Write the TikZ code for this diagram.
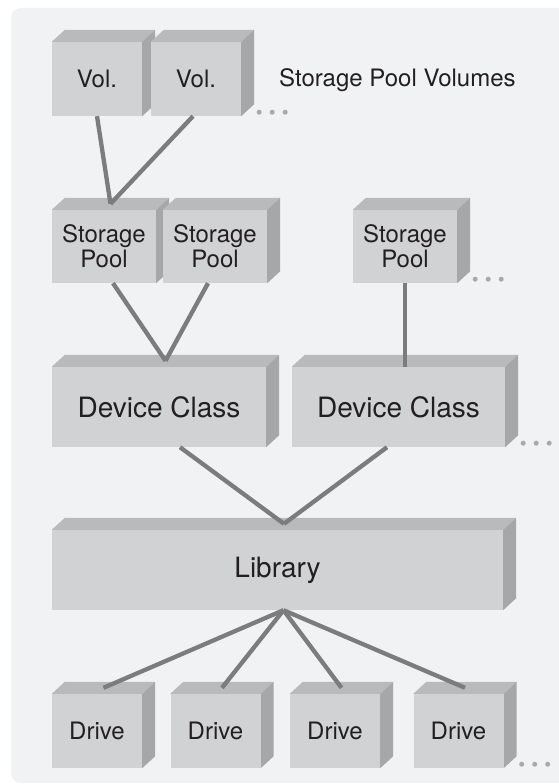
\documentclass[tikz,border=0pt]{standalone}
\usepackage{fontspec}
\setmainfont{TeX Gyre Heros}
\usepackage{tikz}

\definecolor{panelgray}{HTML}{F1F2F4}
\definecolor{frontgray}{HTML}{D1D2D4}
\definecolor{topgray}{HTML}{B9BABC}
\definecolor{sidegray}{HTML}{A6A7A9}
\definecolor{linkgray}{HTML}{7B7C7E}
\definecolor{dotgray}{HTML}{A8A9AB}
\definecolor{inkgray}{HTML}{231F20}

\pgfdeclarelayer{panel}
\pgfdeclarelayer{faces}
\pgfsetlayers{panel,faces,main}

\tikzset{
	cube/.style={fill=frontgray, inner sep=0pt, text=inkgray, align=center, font=\fontsize{24}{25}\selectfont},
	bigcube/.style={cube, font=\fontsize{28}{30}\selectfont},
	link/.style={draw=linkgray, line width=4.3pt},
}

\begin{document}
\begin{tikzpicture}[x=1pt, y=-1pt]
	\useasboundingbox (0,0) rectangle (559,784);
	\begin{pgfonlayer}{panel}
		\fill[panelgray, rounded corners=10pt] (11,8) rectangle (580,783);
	\end{pgfonlayer}

	\node[cube, minimum width=90pt, minimum height=74pt] (vol1) at (97,79) {Vol.};
	\node[cube, minimum width=90pt, minimum height=74pt] (vol2) at (196,79) {Vol.};
	\node[anchor=west, inner sep=0pt, text=inkgray, font=\fontsize{24}{25}\selectfont] (voltext) at (279,80) {Storage Pool Volumes};
	\node[cube, minimum width=104pt, minimum height=73pt] (sp1) at (104,246.5) {Storage\\Pool};
	\node[cube, minimum width=104pt, minimum height=73pt] (sp2) at (215,246.5) {Storage\\Pool};
	\node[cube, minimum width=104pt, minimum height=73pt] (sp3) at (405,246.5) {Storage\\Pool};
	\node[bigcube, minimum width=214pt, minimum height=80pt] (dc1) at (159,407) {Device Class};
	\node[bigcube, minimum width=213pt, minimum height=80pt] (dc2) at (398.5,407) {Device Class};
	\node[bigcube, minimum width=451pt, minimum height=80pt] (lib) at (277.5,570) {Library};
	\node[cube, minimum width=90pt, minimum height=74pt] (drv1) at (97,731) {Drive};
	\node[cube, minimum width=90pt, minimum height=74pt] (drv2) at (215.5,731) {Drive};
	\node[cube, minimum width=90pt, minimum height=74pt] (drv3) at (335,731) {Drive};
	\node[cube, minimum width=90pt, minimum height=74pt] (drv4) at (458.5,731) {Drive};

	% top and side faces of every box
	\begin{pgfonlayer}{faces}
		\foreach \n in {vol1,vol2,sp1,sp2,sp3,dc1,dc2,lib,drv1,drv2,drv3,drv4} {
			\fill[topgray] (\n.north west) -- ++(13pt,12pt) -- ([xshift=13pt,yshift=12pt]\n.north east) -- (\n.north east) -- cycle;
			\fill[sidegray] (\n.north east) -- ++(13pt,12pt) -- ([xshift=13pt,yshift=12pt]\n.south east) -- (\n.south east) -- cycle;
			\coordinate (\n-top) at ([xshift=6.5pt,yshift=6pt]\n.north);
		}
	\end{pgfonlayer}

	% more of the same
	\foreach \n in {vol2,sp3,dc2,drv4}
		\foreach \i in {0,1,2}
			\fill[dotgray] ([xshift=18pt+13pt*\i,yshift=4pt]\n.south east) circle (2.5pt);

	\draw[link] (vol1.south) -- (sp1-top);
	\draw[link] ([xshift=-3pt]vol2.south) -- (sp1-top);
	\draw[link] ([xshift=9pt]sp1.south) -- (dc1-top);
	\draw[link] ([xshift=-7pt]sp2.south) -- (dc1-top);
	\draw[link] (sp3.south) -- (sp3.south |- dc2.north);
	\draw[link] ([xshift=21pt]dc1.south) -- (lib-top);
	\draw[link] ([xshift=-11.5pt]dc2.south) -- (lib-top);
	\draw[link] ([xshift=6pt]lib.south) -- (drv1-top);
	\draw[link] ([xshift=6pt]lib.south) -- (drv2-top);
	\draw[link] ([xshift=6pt]lib.south) -- (drv3-top);
	\draw[link] ([xshift=6pt]lib.south) -- (drv4-top);
\end{tikzpicture}
\end{document}
